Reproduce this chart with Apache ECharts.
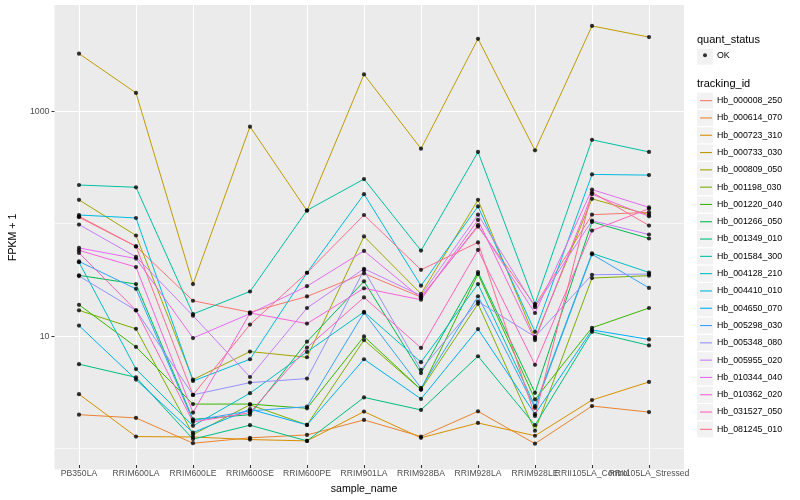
<!DOCTYPE html>
<html><head><meta charset="utf-8">
<script src="https://cdn.jsdelivr.net/npm/echarts@6/dist/echarts.min.js"></script>
<style>html,body{margin:0;padding:0;background:#fff}#c{width:800px;height:500px}</style>
</head><body><div id="c"></div>
<script>
const categories = ['PB350LA','RRIM600LA','RRIM600LE','RRIM600SE','RRIM600PE','RRIM901LA','RRIM928BA','RRIM928LA','RRIM928LE','RRII105LA_Control','RRII105LA_Stressed'];
const yTickLabels = [10, 1000];
const yMinorLines = [1, 100];

const Hb_000008_250 = [111.2, 59.7, 19.4, 15.3, 21.2, 34.1, 20.9, 89.9, 17.6, 114.9, 120.7];
const Hb_000614_070 = [1.84, 1.72, 1.02, 1.14, 1.21, 1.65, 1.17, 1.97, 1.01, 2.20, 1.94];
const Hb_000723_310 = [2.81, 1.17, 1.16, 1.10, 1.07, 1.96, 1.14, 1.55, 1.19, 2.49, 3.62];
const Hb_000733_030 = [3211, 1425, 27.4, 710, 124.7, 2089, 450, 4365, 434.7, 5695, 4520];
const Hb_000809_050 = [156.2, 74.8, 3.80, 6.78, 6.03, 73.3, 22.4, 156.2, 8.90, 159.5, 114.9];
const Hb_001198_030 = [15.9, 10.85, 1.22, 2.26, 1.49, 8.61, 3.09, 18.2, 1.32, 31.0, 32.6];
const Hb_001220_040 = [17.85, 7.46, 2.29, 2.29, 2.10, 9.27, 3.09, 33.7, 2.52, 11.1, 16.7];
const Hb_001266_050 = [32.8, 27.4, 1.67, 1.84, 8.32, 29.0, 4.35, 35.1, 2.89, 99.0, 70.3];
const Hb_001349_010 = [5.23, 3.98, 1.11, 1.48, 1.07, 2.63, 2.03, 6.16, 1.48, 10.2, 7.71];
const Hb_001584_300 = [212.4, 202.6, 14.75, 23.5, 125.8, 240.1, 54.7, 420.7, 18.2, 541, 420.7];
const Hb_004128_210 = [43.0, 4.72, 1.46, 2.87, 6.74, 15.4, 5.45, 27.4, 2.20, 51.7, 34.8];
const Hb_004410_010 = [114.2, 107.4, 3.69, 5.79, 34.6, 175.6, 26.5, 136.5, 10.2, 264.4, 260.6];
const Hb_004650_070 = [11.6, 3.80, 1.27, 2.06, 1.49, 5.79, 2.55, 10.8, 1.86, 10.6, 8.72];
const Hb_005298_030 = [43.7, 24.8, 1.63, 1.99, 2.17, 15.15, 3.20, 21.3, 2.12, 50.7, 25.3];
const Hb_005348_080 = [32.3, 15.9, 2.77, 3.57, 3.88, 36.5, 4.66, 19.1, 9.21, 33.2, 33.7];
const Hb_005955_020 = [93.7, 48.1, 14.25, 4.01, 16.7, 37.6, 21.6, 114.9, 17.0, 101.6, 76.3];
const Hb_010344_040 = [57.8, 46.4, 8.97, 14.85, 26.2, 54.3, 20.5, 92.5, 15.06, 193.3, 133.7];
const Hb_010362_020 = [55.0, 38.9, 1.92, 15.06, 12.1, 25.1, 19.8, 103.1, 8.61, 175.6, 111.2];
const Hb_031527_050 = [52.2, 15.9, 1.58, 1.92, 7.36, 20.8, 7.31, 55.5, 5.16, 82.8, 130.0];
const Hb_081245_010 = [109.0, 59.7, 2.77, 11.85, 34.6, 114.2, 36.8, 64.8, 1.79, 182.9, 91.8];

const trackingIds = ['Hb_000008_250','Hb_000614_070','Hb_000723_310','Hb_000733_030','Hb_000809_050','Hb_001198_030','Hb_001220_040','Hb_001266_050','Hb_001349_010','Hb_001584_300','Hb_004128_210','Hb_004410_010','Hb_004650_070','Hb_005298_030','Hb_005348_080','Hb_005955_020','Hb_010344_040','Hb_010362_020','Hb_031527_050','Hb_081245_010'];
const values = [Hb_000008_250,Hb_000614_070,Hb_000723_310,Hb_000733_030,Hb_000809_050,Hb_001198_030,Hb_001220_040,Hb_001266_050,Hb_001349_010,Hb_001584_300,Hb_004128_210,Hb_004410_010,Hb_004650_070,Hb_005298_030,Hb_005348_080,Hb_005955_020,Hb_010344_040,Hb_010362_020,Hb_031527_050,Hb_081245_010];

const palette = ['#F8766D','#EA8331','#D89000','#C09B00','#A3A500','#7CAE00','#39B600','#00BB4E','#00BF7D','#00C1A3','#00BFC4','#00BAE0','#00B0F6','#35A2FF','#9590FF','#C77CFF','#E76BF3','#FA62DB','#FF62BC','#FF6C91'];

const FONT = '"Liberation Sans", Arial, Helvetica, sans-serif';
const yMin = 0.65, yMax = 8780;
const gridTop = 5, gridHeight = 464.6;

const points = [];
values.forEach(arr => arr.forEach((v, i) => points.push([i, v])));

const keyRects = [{type:'rect', shape:{x:697, y:48.7, width:16, height:16}, style:{fill:'#F2F2F2'}, z:0}];
trackingIds.forEach((id, k) => {
  keyRects.push({type:'rect', shape:{x:697, y:92.7 + 17.3 * k, width:16, height:16}, style:{fill:'#F2F2F2'}, z:0});
});

const chart = echarts.init(document.getElementById('c'), null, {renderer:'canvas'});
const option = {
  animation:false,
  backgroundColor:'#ffffff',
  graphic: keyRects,
  title:[
    {text:'quant_status', left:697, top:34.5, padding:0, textStyle:{fontSize:11, fontWeight:'normal', color:'#000', fontFamily:FONT}},
    {text:'tracking_id', left:697, top:78, padding:0, textStyle:{fontSize:11, fontWeight:'normal', color:'#000', fontFamily:FONT}}
  ],
  legend:[
    {data:[{name:'OK', icon:'circle'}], left:703, top:50.7, padding:0, itemWidth:4, itemHeight:4, selectedMode:false,
     textStyle:{fontSize:8.8, color:'#000', fontFamily:FONT, padding:[0,0,0,5]}},
    {data: trackingIds.map((id, k) => ({name:id, icon:'rect', itemStyle:{color:palette[k]}})),
     orient:'vertical', left:700, top:92, padding:0, itemGap:0, itemWidth:12, itemHeight:1.1, selectedMode:false,
     textStyle:{fontSize:8.8, lineHeight:17.3, color:'#000', fontFamily:FONT}}
  ],
  grid:[
    {left:45, right:116, top:gridTop, height:gridHeight, show:true, backgroundColor:'#EBEBEB', borderWidth:0},
    {left:79, right:151, top:gridTop, height:gridHeight}
  ],
  xAxis:[
    {gridIndex:0, type:'value', show:false, min:0, max:1},
    {gridIndex:1, type:'category', data:categories, boundaryGap:false,
     axisLine:{show:false}, axisTick:{show:true, length:3, lineStyle:{color:'#333'}},
     axisLabel:{interval:0, margin:4, fontSize:8.6, color:'#4D4D4D', fontFamily:FONT},
     splitLine:{show:true, lineStyle:{color:'#ffffff', width:1.1}},
     name:'sample_name', nameLocation:'middle', nameGap:19,
     nameTextStyle:{fontSize:10.6, color:'#000', fontFamily:FONT}}
  ],
  yAxis:[
    {gridIndex:0, type:'log', logBase:10, min:yMin, max:yMax, position:'right',
     axisLine:{show:false}, axisTick:{show:false, customValues:yMinorLines}, axisLabel:{show:false},
     splitLine:{show:true, lineStyle:{color:'#ffffff', width:0.55}}},
    {gridIndex:0, type:'log', logBase:10, min:yMin, max:yMax, position:'left',
     axisLine:{show:false}, axisTick:{show:true, length:3, customValues:yTickLabels, lineStyle:{color:'#333'}},
     axisLabel:{customValues:yTickLabels, margin:5, fontSize:8.8, color:'#4D4D4D', fontFamily:FONT,
       formatter: v => String(Math.round(v))},
     splitLine:{show:true, lineStyle:{color:'#ffffff', width:1.1}},
     name:'FPKM + 1', nameLocation:'middle', nameGap:29,
     nameTextStyle:{fontSize:10.6, color:'#000', fontFamily:FONT}},
    {gridIndex:1, type:'log', logBase:10, min:yMin, max:yMax, show:false}
  ],
  series: trackingIds.map((id, k) => ({
    name:id, type:'line', xAxisIndex:1, yAxisIndex:2, data:values[k],
    symbol:'none', showSymbol:false, silent:true, z:2,
    lineStyle:{color:palette[k], width:1}, itemStyle:{color:palette[k]},
    emphasis:{disabled:true}
  })).concat([{
    name:'OK', type:'scatter', xAxisIndex:1, yAxisIndex:2, data:points,
    symbolSize:4.2, itemStyle:{color:'#000'}, silent:true, z:3
  }])
};
chart.setOption(option);
</script>
</body></html>
